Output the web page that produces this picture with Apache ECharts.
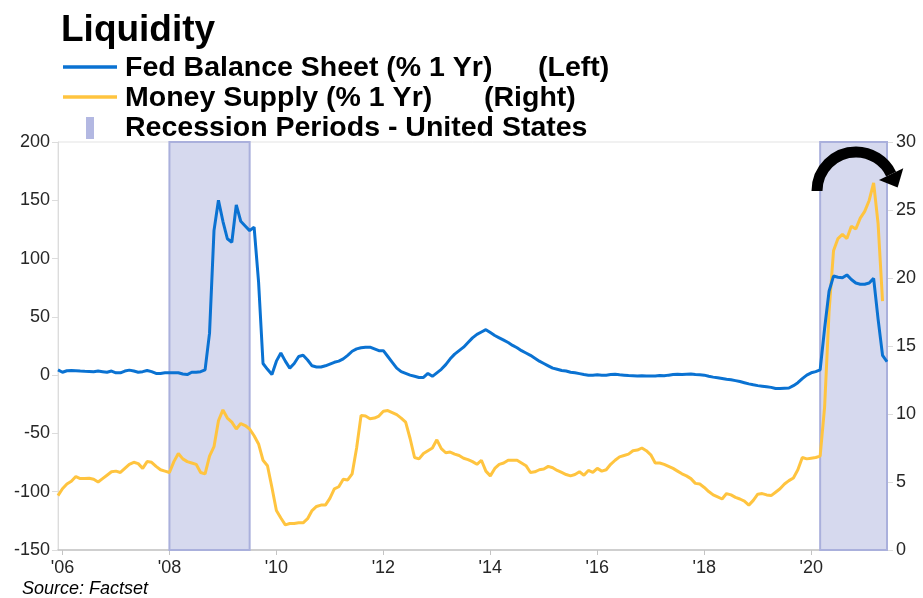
<!DOCTYPE html>
<html>
<head>
<meta charset="utf-8">
<script src="https://cdn.jsdelivr.net/npm/echarts@6/dist/echarts.min.js"></script>
<style>
  html, body { margin: 0; padding: 0; background: #ffffff; }
  #chart { width: 923px; height: 598px; }
</style>
</head>
<body>
<div id="chart"></div>
<script>
// Monthly observations (month-end), first point November 2005
const firstYear = 2005;
const firstMonth = 11;

// Fed balance sheet, % change over 1 year (left axis)
const fedBalanceSheet = [
  4.5, 2.5, 3.8, 4.0, 3.8, 3.5, 3.3, 3.2, 3.0, 3.5, 3.0, 2.5,
  3.5, 2.0, 2.0, 3.5, 4.3, 3.5, 2.5, 3.0, 4.0, 3.0, 1.5, 1.5,
  2.0, 2.0, 2.0, 2.0, 1.0, 0.5, 2.5, 2.5, 3.0, 4.5, 36, 124,
  150, 132, 117, 114, 146, 132, 128, 124, 127, 80, 10, 5,
  0.5, 12, 19, 12, 6, 10, 16, 17, 13, 8, 7, 7,
  8, 9.5, 11, 12, 14, 17, 20.5, 22.5, 23.5, 24, 24, 22.5,
  21, 21, 16, 11, 6, 3, 1.5, 0, -1, -2, -2, 1.5,
  -1, 2, 5, 9, 14, 18, 21, 24, 28, 32, 35, 37,
  39, 36.5, 34, 32, 30, 28, 25.5, 23.5, 21, 19, 17, 14.5,
  12, 10, 8, 6, 5, 4, 3.5, 2.5, 2, 1.3, 0.5, 0,
  0, 0.3, 0, 0, 0.5, 0.7, 0.3, 0, -0.3, -0.5, -0.8, -0.5,
  -0.8, -0.8, -0.8, -0.3, -0.6, 0, 0.5, 0.7, 0.5, 0.8, 1, 0.5,
  0.3, 0, -1, -1.7, -2.2, -2.8, -3.5, -4, -4.7, -5.5, -6.5, -7.5,
  -8.3, -9, -9.5, -10, -10.5, -11.5, -11.5, -11.2, -11, -9, -6.5, -3,
  0, 2, 3, 4.5, 40, 72, 85, 84, 83.5, 86, 82, 79,
  78, 78, 79, 83, 48, 17, 11.5
];

// Money supply, % change over 1 year (right axis)
const moneySupply = [
  4.0, 4.5, 4.85, 5.05, 5.4, 5.25, 5.25, 5.27, 5.2, 5.0, 5.25, 5.5,
  5.75, 5.8, 5.7, 6.0, 6.3, 6.45, 6.35, 6.0, 6.5, 6.45, 6.15, 5.9,
  5.8, 5.7, 6.5, 7.1, 6.7, 6.5, 6.4, 6.3, 5.7, 5.6, 6.9, 7.6,
  9.5, 10.3, 9.7, 9.4, 8.9, 9.3, 9.15, 8.9, 8.4, 7.8, 6.6, 6.2,
  4.6, 2.9, 2.35, 1.85, 1.95, 1.95, 2.0, 2.0, 2.3, 2.9, 3.2, 3.3,
  3.3, 3.8, 4.5, 4.65, 5.2, 5.15, 5.6, 7.5, 9.9, 9.85, 9.65, 9.7,
  9.85, 10.2, 10.25, 10.1, 9.95, 9.7, 9.4, 8.2, 6.8, 6.7, 7.1, 7.3,
  7.5, 8.1, 7.45, 7.15, 7.2, 7.05, 6.95, 6.75, 6.65, 6.5, 6.3, 6.6,
  5.8, 5.45, 6.0, 6.3, 6.4, 6.6, 6.6, 6.6, 6.4, 6.2, 5.7, 5.75,
  5.9, 5.95, 6.15, 6.05, 5.85, 5.7, 5.55, 5.45, 5.55, 5.75, 5.5, 5.85,
  5.7, 6.0, 5.8, 5.9, 6.3, 6.6, 6.85, 6.95, 7.05, 7.3, 7.35, 7.5,
  7.3, 7.0, 6.4, 6.4, 6.3, 6.15, 6.0, 5.8, 5.6, 5.45, 5.25, 4.9,
  4.85, 4.6, 4.3, 4.05, 3.9, 3.75, 4.15, 4.05, 3.87, 3.75, 3.6, 3.3,
  3.65, 4.1, 4.15, 4.05, 4.0, 4.25, 4.5, 4.85, 5.1, 5.3, 5.9, 6.8,
  6.7, 6.75, 6.8, 6.9, 10.5, 17.5, 22.0, 22.9, 23.2, 22.9, 23.8, 23.6,
  24.4, 24.9, 25.7, 27.0, 24.0, 18.3
];

// US recessions as [start, end] month-end dates
const recessions = [
  ['2007-12', '2009-06'],
  ['2020-02', '2021-05']
];

const tickYears = [2006, 2008, 2010, 2012, 2014, 2016, 2018, 2020];

const titleText = 'Liquidity';
const legendFed = ['Fed Balance Sheet (% 1 Yr)', '(Left)'];
const legendMoney = ['Money Supply (% 1 Yr)', '(Right)'];
const legendRecession = 'Recession Periods - United States';
const sourceText = 'Source: Factset';

// month-end of month index i (0 = first observation) as a fractional year
function monthEnd(i) {
  return firstYear + (firstMonth + i) / 12;
}
function ymToYear(s) {
  const [y, m] = s.split('-').map(Number);
  return y + m / 12;
}

const fedData = fedBalanceSheet.map((v, i) => [monthEnd(i), v]);
const moneyData = moneySupply.map((v, i) => [monthEnd(i), v]);
const xMin = monthEnd(0);
const xMax = monthEnd(fedBalanceSheet.length - 1);

const BLUE = '#0a72d2';
const YELLOW = '#ffc43f';
const BAND = '#d6d9ee';
const BAND_EDGE = '#aab0dc';
const AXIS_FONT = '"Liberation Sans", Arial, sans-serif';

const chart = echarts.init(document.getElementById('chart'), null, { renderer: 'canvas' });

function legendRow(y, parts, xs) {
  return parts.map((t, j) => ({
    type: 'text',
    x: xs[j], y: y,
    style: {
      text: t,
      font: 'bold 28.5px ' + AXIS_FONT,
      fill: '#000000',
      textVerticalAlign: 'middle', verticalAlign: 'middle'
    }
  }));
}

// curved arrow over the 2020 peak
const arcCx = 856, arcCy = 191, arcR = 39;
const endAng = -0.45;
const ex = arcCx + arcR * Math.cos(endAng), ey = arcCy + arcR * Math.sin(endAng);
const tx = -Math.sin(endAng), ty = Math.cos(endAng);     // tangent (clockwise)
const nx = Math.cos(endAng), ny = Math.sin(endAng);      // normal
const headHalf = 13.5, headLen = 15;
const arrowHead = [
  [ex + nx * headHalf, ey + ny * headHalf],
  [ex - nx * headHalf, ey - ny * headHalf],
  [ex + tx * headLen, ey + ty * headLen]
];

const option = {
  backgroundColor: '#ffffff',
  animation: false,
  grid: {
    left: 58, right: 36, top: 142, bottom: 48,
    show: true, borderColor: '#e3e3e3', borderWidth: 1, backgroundColor: 'transparent'
  },
  xAxis: {
    type: 'value',
    min: xMin, max: xMax,
    axisLine: { show: true, onZero: false, lineStyle: { color: '#c4c4c4', width: 1.5 } },
    axisTick: { show: true, customValues: tickYears, length: 5, lineStyle: { color: '#c4c4c4' } },
    axisLabel: {
      customValues: tickYears,
      formatter: v => "'" + String(Math.round(v)).slice(2),
      color: '#262626', fontSize: 18, fontFamily: AXIS_FONT, margin: 9
    },
    splitLine: { show: false }
  },
  yAxis: [
    {
      type: 'value', min: -150, max: 200, interval: 50,
      axisLine: { show: true, lineStyle: { color: '#dcdcdc' } },
      axisTick: { show: true, length: 6, lineStyle: { color: '#dcdcdc' } },
      axisLabel: { color: '#262626', fontSize: 18, fontFamily: AXIS_FONT, margin: 8 },
      splitLine: { show: false }
    },
    {
      type: 'value', min: 0, max: 30, interval: 5,
      axisLine: { show: true, lineStyle: { color: '#dcdcdc' } },
      axisTick: { show: true, length: 6, lineStyle: { color: '#dcdcdc' } },
      axisLabel: { color: '#262626', fontSize: 18, fontFamily: AXIS_FONT, margin: 9 },
      splitLine: { show: false }
    }
  ],
  series: [
    {
      name: legendRecession,
      type: 'line',
      yAxisIndex: 0,
      data: [],
      z: 1,
      markArea: {
        silent: true,
        itemStyle: { color: BAND, borderColor: BAND_EDGE, borderWidth: 2 },
        data: recessions.map(r => [
          { xAxis: ymToYear(r[0]) },
          { xAxis: Math.min(ymToYear(r[1]), xMax) }
        ])
      }
    },
    {
      name: legendFed[0],
      type: 'line',
      yAxisIndex: 0,
      data: fedData,
      showSymbol: false,
      lineStyle: { color: BLUE, width: 3 },
      itemStyle: { color: BLUE },
      z: 4
    },
    {
      name: legendMoney[0],
      type: 'line',
      yAxisIndex: 1,
      data: moneyData,
      showSymbol: false,
      lineStyle: { color: YELLOW, width: 3 },
      itemStyle: { color: YELLOW },
      z: 3
    }
  ],
  graphic: [
    {
      type: 'text', x: 61, y: 31,
      style: {
        text: titleText, font: 'bold 37px ' + AXIS_FONT, fill: '#000000',
        textVerticalAlign: 'middle', verticalAlign: 'middle'
      }
    },
    { type: 'line', shape: { x1: 63, y1: 67, x2: 117, y2: 67 }, style: { stroke: BLUE, lineWidth: 3.5 } },
    { type: 'line', shape: { x1: 63, y1: 97, x2: 117, y2: 97 }, style: { stroke: YELLOW, lineWidth: 3.5 } },
    { type: 'rect', shape: { x: 86, y: 117, width: 8, height: 22 }, style: { fill: '#b3b8e2' } },
    ...legendRow(68, legendFed, [125, 538]),
    ...legendRow(98, legendMoney, [125, 484]),
    ...legendRow(128, [legendRecession], [125]),
    {
      type: 'text', x: 22, y: 589,
      style: {
        text: sourceText, font: 'italic 18px ' + AXIS_FONT, fill: '#000000',
        textVerticalAlign: 'middle', verticalAlign: 'middle'
      }
    },
    {
      type: 'arc',
      shape: { cx: arcCx, cy: arcCy, r: arcR, startAngle: Math.PI, endAngle: 2 * Math.PI + endAng, clockwise: true },
      style: { stroke: '#000000', lineWidth: 11, fill: null },
      z: 10
    },
    {
      type: 'polygon',
      shape: { points: arrowHead },
      style: { fill: '#000000' },
      z: 10
    }
  ]
};

chart.setOption(option);
</script>
</body>
</html>
